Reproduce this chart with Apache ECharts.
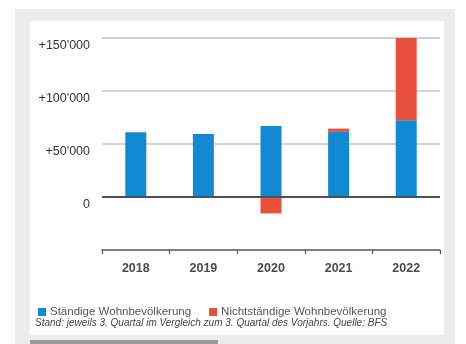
<!DOCTYPE html>
<html>
<head>
<meta charset="utf-8">
<script src="https://cdn.jsdelivr.net/npm/echarts@6/dist/echarts.min.js"></script>
<style>
  html, body { margin: 0; padding: 0; background: #ffffff; }
  #chart { width: 466px; height: 344px; }
</style>
</head>
<body>
<div id="chart"></div>
<script>
// Population growth, 3rd quarter vs 3rd quarter of previous year
const years = ['2018', '2019', '2020', '2021', '2022'];
const permanent = [61000, 59500, 67000, 61500, 72500];      // Ständige Wohnbevölkerung
const nonPermanent = [0, 0, -15500, 3000, 77500];           // Nichtständige Wohnbevölkerung
const yTicks = [-50000, 0, 50000, 100000, 150000];
const yTickLabels = ['', '0', "+50'000", "+100'000", "+150'000"];
const seriesNames = ['Ständige Wohnbevölkerung', 'Nichtständige Wohnbevölkerung'];
const footnote = 'Stand: jeweils 3. Quartal im Vergleich zum 3. Quartal des Vorjahrs. Quelle: BFS';

const FONT = '"Liberation Sans", Arial, sans-serif';
const BLUE = '#1289d3';
const RED = '#e84f3d';

const chart = echarts.init(document.getElementById('chart'), null, { renderer: 'canvas' });

chart.setOption({
  animation: false,
  backgroundColor: '#ffffff',
  textStyle: { fontFamily: FONT },
  graphic: [
    { type: 'rect', z: -10, silent: true, shape: { x: 15, y: 9, width: 440, height: 335 }, style: { fill: '#ececec' } },
    { type: 'rect', z: -9, silent: true, shape: { x: 30, y: 21, width: 414, height: 314 }, style: { fill: '#ffffff' } },
    { type: 'rect', z: -9, silent: true, shape: { x: 30, y: 340, width: 188, height: 4 }, style: { fill: '#9a9a9a' } },
    {
      type: 'text', left: 35, top: 318, silent: true,
      style: { text: footnote, font: 'italic 10px ' + FONT, fill: '#444444' }
    }
  ],
  grid: { left: 102, right: 26, top: 38, bottom: 94, containLabel: false },
  legend: {
    left: 38, top: 306, padding: 0,
    itemWidth: 8, itemHeight: 8, itemGap: 18,
    icon: 'rect',
    textStyle: { fontSize: 11.5, color: '#555555', fontFamily: FONT, padding: [0, 0, 0, -1] },
    data: seriesNames
  },
  xAxis: {
    type: 'category',
    data: years,
    axisLine: { onZero: false, lineStyle: { color: '#555555', width: 1.5 } },
    axisTick: { show: true, length: 4, lineStyle: { color: '#555555', width: 1.2 } },
    axisLabel: { fontSize: 12.5, fontWeight: 'bold', color: '#4a4a4a', margin: 12 },
    splitLine: { show: false }
  },
  yAxis: {
    type: 'value',
    min: yTicks[0],
    max: yTicks[yTicks.length - 1],
    interval: yTicks[1] - yTicks[0],
    axisLine: { show: false },
    axisTick: { show: false },
    axisLabel: {
      fontSize: 12.5, color: '#333333', margin: 12,
      verticalAlign: 'top', padding: [1, 0, 0, 0],
      formatter: function (v) {
        const i = yTicks.indexOf(v);
        return i >= 0 ? yTickLabels[i] : '';
      }
    },
    splitLine: {
      show: true,
      lineStyle: { color: ['rgba(0,0,0,0)', '#444444', '#c6c6c6', '#c6c6c6', '#c2c2c2'], width: 1.6 }
    }
  },
  series: [
    {
      name: seriesNames[0],
      type: 'bar',
      stack: 'pop',
      data: permanent,
      barWidth: 21,
      itemStyle: { color: BLUE },
      markLine: {
        silent: true,
        symbol: 'none',
        z: 10,
        label: { show: false },
        lineStyle: { color: '#444444', width: 1.6, type: 'solid' },
        data: [{ yAxis: 0 }]
      }
    },
    {
      name: seriesNames[1],
      type: 'bar',
      stack: 'pop',
      data: nonPermanent,
      barWidth: 21,
      itemStyle: { color: RED }
    }
  ]
});
</script>
</body>
</html>
